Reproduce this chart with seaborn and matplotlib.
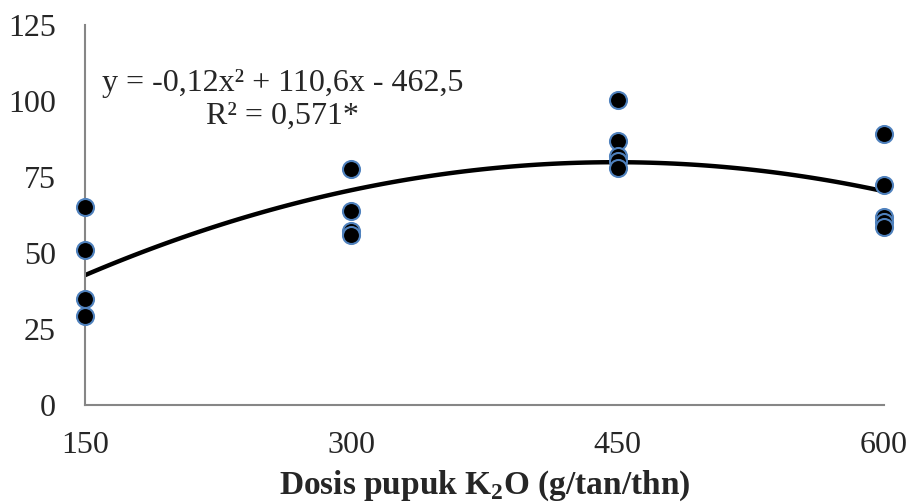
import numpy as np
import pandas as pd
import seaborn as sns
import matplotlib.pyplot as plt

sns.set_style("white")
plt.rcParams['font.family'] = ['Liberation Serif', 'DejaVu Serif']
plt.rcParams['mathtext.fontset'] = 'custom'
plt.rcParams['mathtext.rm'] = 'Liberation Serif'
plt.rcParams['mathtext.bf'] = 'Liberation Serif:bold'

# data
dose = [150, 150, 150, 150,
        300, 300, 300, 300,
        450, 450, 450, 450, 450,
        600, 600, 600, 600, 600]
value = [65.0, 51.0, 34.9, 29.3,
         77.6, 63.8, 57.2, 56.0,
         100.2, 87.0, 82.0, 80.3, 77.9,
         89.2, 72.4, 61.8, 60.3, 58.5]
x_ticks = [150, 300, 450, 600]
y_ticks = [0, 25, 50, 75, 100, 125]
equation = "y = -0,12x² + 110,6x - 462,5"
r_squared = "R² = 0,571*"

df = pd.DataFrame({"dose": dose, "value": value})

fig, ax = plt.subplots(figsize=(9.1, 5.04), dpi=100)
fig.subplots_adjust(left=0.0934, right=0.9714, top=0.9504, bottom=0.1964)

sns.regplot(data=df, x="dose", y="value", order=2, ci=None, scatter=False,
            line_kws={"color": "black", "lw": 3.2}, ax=ax)
sns.scatterplot(data=df, x="dose", y="value", color="black", s=150,
                edgecolor="#4F81BD", linewidth=1.5, zorder=5, clip_on=False, ax=ax)

ax.set_xlim(150, 600)
ax.set_ylim(0, 125)
ax.set_xticks(x_ticks)
ax.set_yticks(y_ticks)
ax.tick_params(labelsize=23, direction="out", length=7, width=1.2,
               color="#868686")
ax.tick_params(axis="y", pad=14)
ax.tick_params(axis="x", pad=12)
for s in ["top", "right"]:
    ax.spines[s].set_visible(False)
for s in ["left", "bottom"]:
    ax.spines[s].set_color("#868686")
    ax.spines[s].set_linewidth(1.5)

ax.set_ylabel("")
ax.set_xlabel(r"Dosis pupuk K$_\mathbf{2}$O (g/tan/thn)", fontsize=24,
              fontweight="bold", labelpad=6)

ax.text(0.247, 0.845, equation, transform=ax.transAxes, ha="center",
        va="center", fontsize=23)
ax.text(0.247, 0.76, r_squared, transform=ax.transAxes, ha="center",
        va="center", fontsize=23)

plt.savefig("out.png", dpi=100)
